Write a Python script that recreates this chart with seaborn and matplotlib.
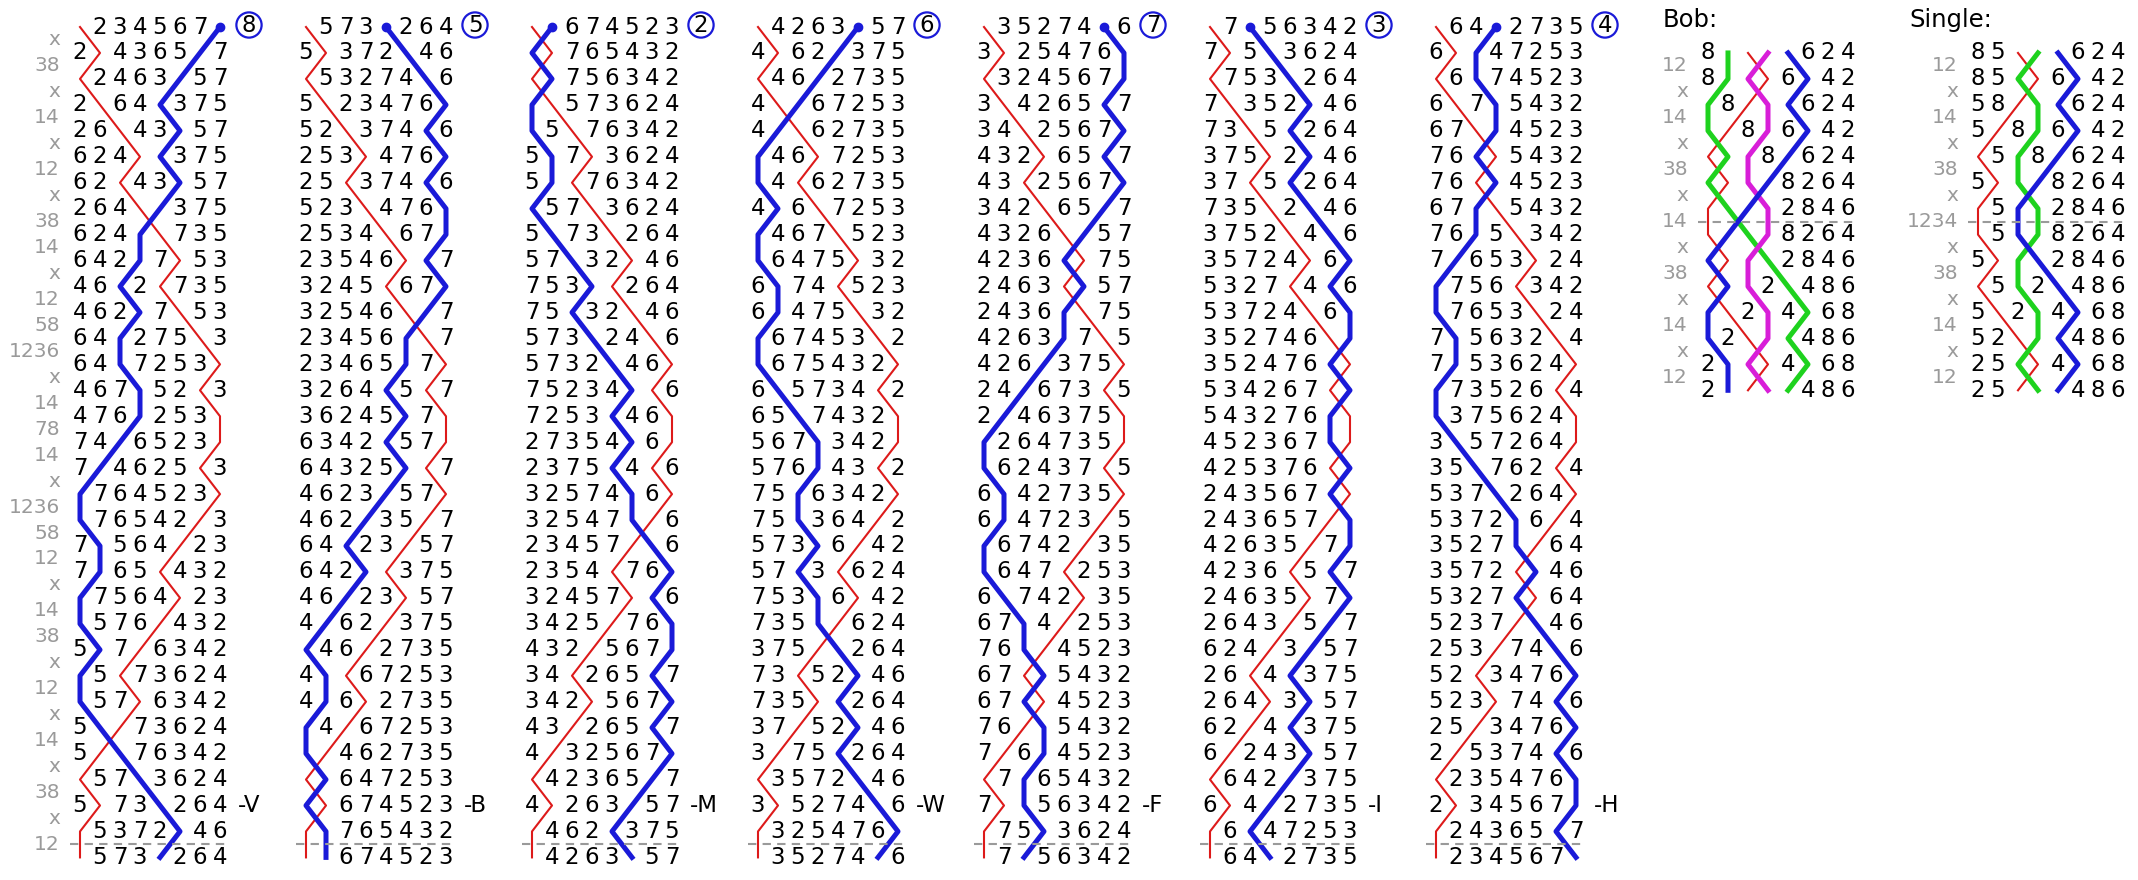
import numpy as np
import matplotlib
matplotlib.use("Agg")
import matplotlib.pyplot as plt
import pandas as pd
import seaborn as sns

# place notation of one lead (read down the left margin)
place_notation = ["x", "38", "x", "14", "x", "12", "x", "38", "14", "x", "12", "58",
                  "1236", "x", "14", "78", "14", "x", "1236", "58", "12", "x", "14",
                  "38", "x", "12", "x", "14", "x", "38", "x", "12"]
start_row = "12345678"
n_leads = 7
treble = "1"
traced = "8"
calling_positions = ["V", "B", "M", "W", "F", "I", "H"]

# bob / single panels: last 7 changes of lead, the call, first 6 of next lead
bob_notation = ["12", "x", "14", "x", "38", "x", "14", "x", "38", "x", "14", "x", "12"]
single_notation = ["12", "x", "14", "x", "38", "x", "1234", "x", "38", "x", "14", "x", "12"]
panel_start = "85173624"
bob_lines = {"1": "red", "5": "green", "7": "magenta", "3": "blue"}
single_lines = {"1": "red", "7": "green", "3": "blue"}

colours = {"red": "#dd1a1a", "blue": "#1a1ad8", "green": "#1ed21e", "magenta": "#d81ed8"}
grey = "#9a9a9a"

# layout in pixels
X0, COL_W, POS_W = 80, 226, 20
Y0, ROW_H = 27, 25.95
BOB_X, SINGLE_X = 1708, 1978
FS = 16.5
PN_FS = 14.5


def apply_pn(row, pn):
    places = set() if pn == "x" else {int(c) for c in pn}
    out = list(row)
    i = 0
    while i < len(row):
        if (i + 1) in places:
            i += 1
            continue
        out[i], out[i + 1] = row[i + 1], row[i]
        i += 2
    return out


def ring(row, notation):
    rows = [list(row)]
    for pn in notation:
        rows.append(apply_pn(rows[-1], pn))
    return rows


fig = plt.figure(figsize=(21.38, 8.8), dpi=100)
ax = fig.add_axes([0, 0, 1, 1])


def draw_block(rows, x0, y0, line_bells, pn_list, pn_right, dash_after):
    recs = []
    for i, r in enumerate(rows):
        y = y0 + i * ROW_H
        for p, b in enumerate(r):
            x = x0 + p * POS_W
            if b in line_bells:
                recs.append({"x": x, "y": y, "bell": b})
            else:
                ax.text(x, y, b, ha="center", va="center", fontsize=FS)
    df = pd.DataFrame(recs)
    for b, col in line_bells.items():
        lw = 1.5 if col == "red" else 3.6
        sns.lineplot(data=df[df.bell == b], x="x", y="y", sort=False, estimator=None,
                     color=colours[col], linewidth=lw, ax=ax, legend=False)
    if pn_right is not None:
        for i, pn in enumerate(pn_list):
            ax.text(pn_right, y0 + (i + 0.5) * ROW_H, pn, ha="right", va="center",
                    fontsize=PN_FS, color=grey)
    yd = y0 + (dash_after + 0.5) * ROW_H
    ax.plot([x0 - 10, x0 + 7 * POS_W + 7], [yd, yd], color=grey, lw=1.5,
            dashes=(4, 3))


row = list(start_row)
for k in range(n_leads):
    rows = ring(row, place_notation)
    x0 = X0 + k * COL_W
    draw_block(rows, x0, Y0, {treble: "red", traced: "blue"}, place_notation,
               60 if k == 0 else None, len(place_notation) - 1)
    # start of the blue line and its place bell
    start_pos = rows[0].index(traced)
    ax.plot(x0 + start_pos * POS_W, Y0, "o", color=colours["blue"], markersize=6)
    ax.scatter([x0 + 7 * POS_W + 29], [Y0 - 2], s=330, facecolors="none",
               edgecolors=colours["blue"], linewidths=1.6)
    ax.text(x0 + 7 * POS_W + 29, Y0 - 1, str(start_pos + 1), ha="center",
            va="center", fontsize=FS)
    ax.text(x0 + 7 * POS_W + 18, Y0 + 30 * ROW_H, "-" + calling_positions[k],
            ha="left", va="center", fontsize=FS)
    row = rows[-1]

# bob and single panels
ax.text(1663, 20, "Bob:", ha="left", va="center", fontsize=17.5)
draw_block(ring(panel_start, bob_notation), BOB_X, Y0 + ROW_H, bob_lines,
           bob_notation, 1688, 6)
ax.text(1909, 20, "Single:", ha="left", va="center", fontsize=17.5)
draw_block(ring(panel_start, single_notation), SINGLE_X, Y0 + ROW_H, single_lines,
           single_notation, 1958, 6)

ax.set_xlim(0, 2138)
ax.set_ylim(880, 0)
ax.axis("off")

fig.savefig("out.png", dpi=100)
